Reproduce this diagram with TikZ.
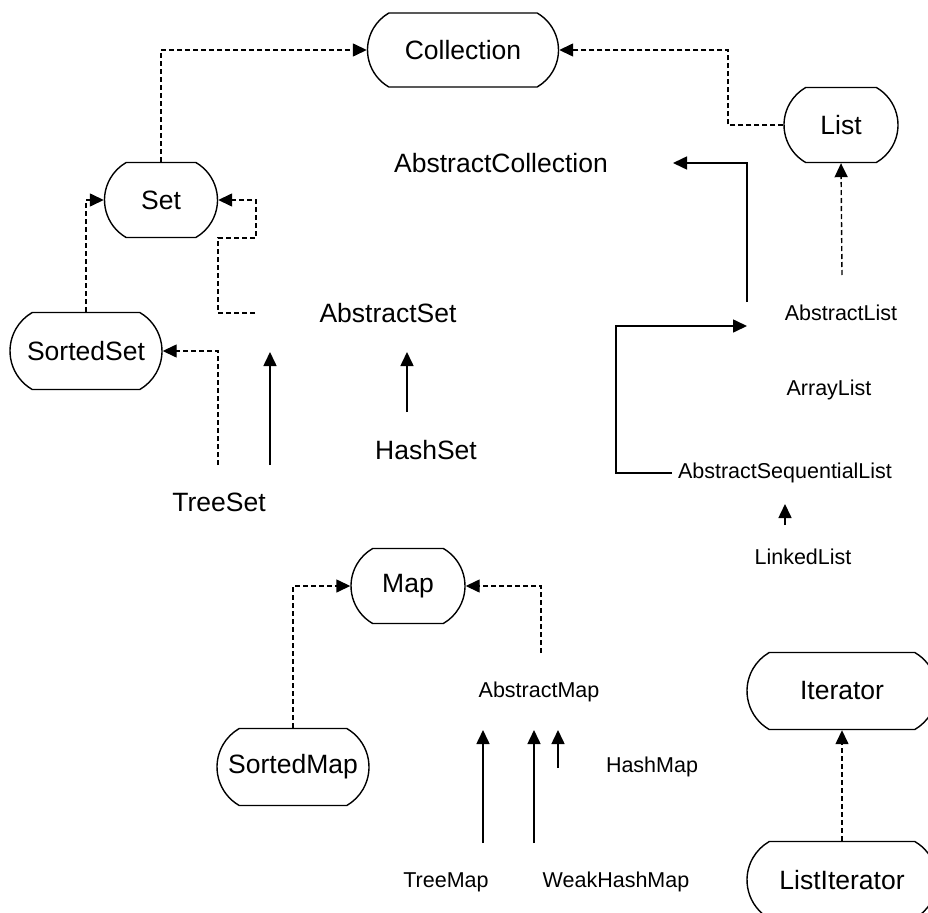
\documentclass[tikz,border=0pt]{standalone}
\usepackage{fontspec}
\setmainfont{Liberation Sans}
\usetikzlibrary{arrows.meta,shapes.misc}
\begin{document}
\begin{tikzpicture}[x=1pt,y=-1pt,
  iface/.style={rounded rectangle, rounded rectangle arc length=120, draw, line width=1.4pt, inner sep=0pt, font=\fontsize{26.5}{30}\selectfont},
  bigtxt/.style={inner sep=0pt, font=\fontsize{26.5}{30}\selectfont},
  smalltxt/.style={inner sep=0pt, font=\fontsize{21.5}{25}\selectfont},
  impl/.style={dash pattern=on 5pt off 3pt, line width=1.4pt, -{Triangle[length=14pt,width=13pt]}},
  ext/.style={line width=1.6pt, -{Triangle[length=14pt,width=13pt]}}]
\useasboundingbox (0,0) rectangle (928,912);
\clip (0,0) rectangle (928,912);

% interfaces
\node[iface, minimum width=191pt, minimum height=74pt] (coll) at (463,50) {Collection};
\node[iface, minimum width=114pt, minimum height=75pt] (list) at (841,125) {List};
\node[iface, minimum width=113pt, minimum height=75pt] (set) at (161,200) {Set};
\node[iface, minimum width=152pt, minimum height=77pt] (sset) at (86,351) {SortedSet};
\node[iface, minimum width=114pt, minimum height=75pt] (map) at (408,586) {Map};
\node[iface, minimum width=152pt, minimum height=77pt] (smap) at (293,767) {SortedMap};
\node[iface, minimum width=190pt, minimum height=77pt] (iter) at (842,691) {Iterator};
\node[iface, minimum width=190pt, minimum height=77pt] (liter) at (842,880) {ListIterator};

% classes
\node[bigtxt] (acoll) at (501,163) {AbstractCollection};
\node[bigtxt] (aset) at (388,313) {AbstractSet};
\node[bigtxt] (hset) at (426,450) {HashSet};
\node[bigtxt] (tset) at (219,502) {TreeSet};
\node[smalltxt] (alist) at (841,313) {AbstractList};
\node[smalltxt] (arrlist) at (829,390) {ArrayList};
\node[smalltxt] (asl) at (785,473) {AbstractSequentialList};
\node[smalltxt] (llist) at (803,557) {LinkedList};
\node[smalltxt] (amap) at (539,692) {AbstractMap};
\node[smalltxt] (hmap) at (652,767) {HashMap};
\node[smalltxt] (tmap) at (446,882) {TreeMap};
\node[smalltxt] (whmap) at (616,882) {WeakHashMap};

% free ends
\coordinate (lc) at (728,125);
\coordinate (al1) at (747,302);
\coordinate (al2) at (673,163);
\coordinate (as1) at (672,473);
\coordinate (as2) at (616,473);
\coordinate (as3) at (747,326);
\coordinate (al3) at (842,275);
\coordinate (ll1) at (785,525);
\coordinate (ll2) at (785,504);
\coordinate (se1) at (255,313);
\coordinate (se2) at (218,313);
\coordinate (se3) at (218,238);
\coordinate (se4) at (256,238);
\coordinate (ts1) at (218,465);
\coordinate (ts2) at (270,465);
\coordinate (ts3) at (270,352);
\coordinate (hs1) at (407,412);
\coordinate (hs2) at (407,352);
\coordinate (am1) at (541,653);
\coordinate (tm1) at (483,843);
\coordinate (tm2) at (483,730);
\coordinate (wm1) at (534,843);
\coordinate (wm2) at (534,730);
\coordinate (hm1) at (558,768);
\coordinate (hm2) at (558,730);

% connectors
\draw[impl] (set.north) |- (coll.west);
\draw[impl] (list.west) -- (lc) |- (coll.east);
\draw[ext] (al1) |- (al2);
\draw[ext] (as1) -- (as2) |- (as3);
\draw[impl] (al3) -- (list.south);
\draw[ext] (ll1) -- (ll2);
\draw[impl] (sset.north) |- (set.west);
\draw[impl] (se1) -- (se2) -- (se3) -- (se4) |- (set.east);
\draw[impl] (ts1) |- (sset.east);
\draw[ext] (ts2) -- (ts3);
\draw[ext] (hs1) -- (hs2);
\draw[impl] (smap.north) |- (map.west);
\draw[impl] (am1) |- (map.east);
\draw[ext] (tm1) -- (tm2);
\draw[ext] (wm1) -- (wm2);
\draw[ext] (hm1) -- (hm2);
\draw[impl] (liter.north) -- (iter.south);
\end{tikzpicture}
\end{document}
